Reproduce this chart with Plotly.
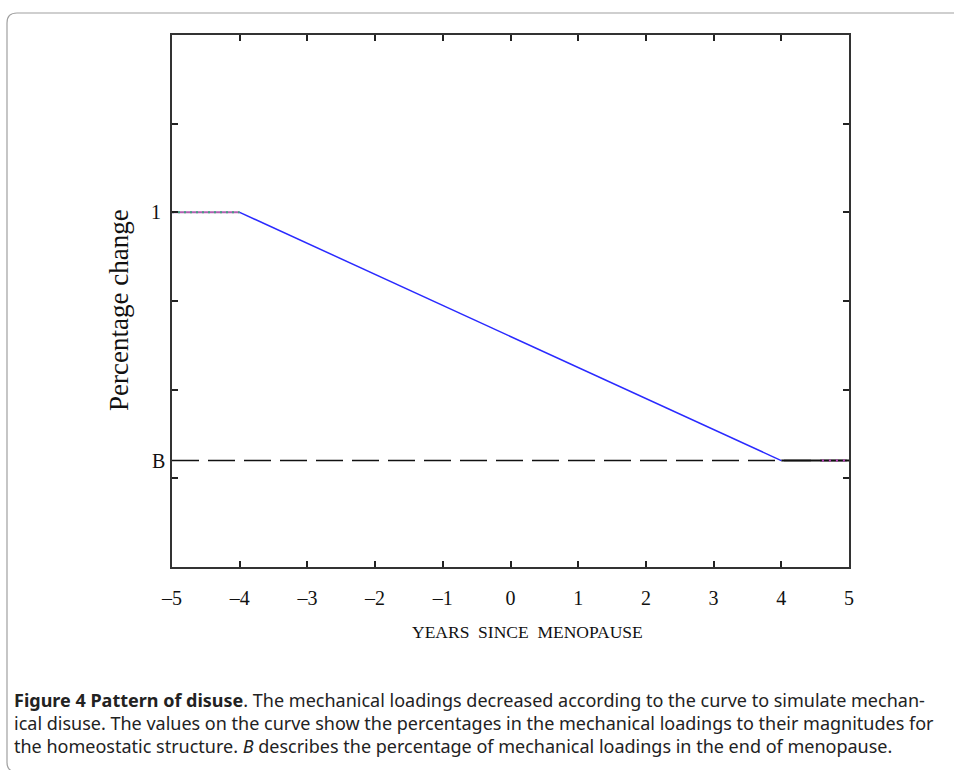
import plotly.graph_objects as go

# ---- data ----
B_LEVEL = 0.44
years = [-5, -4, 4, 5]
loading = [1.0, 1.0, B_LEVEL, B_LEVEL]
x_tick_vals = [-5, -4, -3, -2, -1, 0, 1, 2, 3, 4, 5]
x_tick_text = ["–5", "–4", "–3", "–2", "–1", "0", "1", "2", "3", "4", "5"]
y_tick_vals = [0.4, 0.6, 0.8, 1.0, 1.2]
y_label_vals = [1.0, B_LEVEL]
y_label_text = ["1", "B"]

W, H = 954, 770
L, R, T, Bm = 172, 849, 35, 567


def px(p):
    return (p - L) / (R - L)


def py(p):
    return (Bm - p) / (Bm - T)


fig = go.Figure()

# dashed reference line at B
fig.add_trace(go.Scatter(x=[-5, 5], y=[B_LEVEL, B_LEVEL], mode="lines",
                         line=dict(color="#111111", width=1.5, dash="27px,9px"),
                         hoverinfo="skip", showlegend=False))
# plateau segments (multicoloured dotted look)
fig.add_trace(go.Scatter(x=years[:2], y=loading[:2], mode="lines",
                         line=dict(color="#b060b0", width=2),
                         hoverinfo="skip", showlegend=False))
fig.add_trace(go.Scatter(x=years[:2], y=loading[:2], mode="lines",
                         line=dict(color="#40a080", width=2, dash="2px,4px"),
                         hoverinfo="skip", showlegend=False))
fig.add_trace(go.Scatter(x=years[2:], y=loading[2:], mode="lines",
                         line=dict(color="#111111", width=2),
                         hoverinfo="skip", showlegend=False))
fig.add_trace(go.Scatter(x=[4.6, 5], y=loading[2:], mode="lines",
                         line=dict(color="#c040c0", width=2, dash="2px,5px"),
                         hoverinfo="skip", showlegend=False))
# declining segment
fig.add_trace(go.Scatter(x=years[1:3], y=loading[1:3], mode="lines",
                         line=dict(color="#2a2aff", width=1.5),
                         hoverinfo="skip", showlegend=False))

serif = "Liberation Serif, Times New Roman, serif"

fig.update_xaxes(range=[-5, 5], tickvals=x_tick_vals, ticktext=x_tick_text,
                 ticks="inside", ticklen=6, tickwidth=1.5, tickcolor="#222",
                 showline=True, linecolor="#333", linewidth=1.5, mirror="ticks",
                 showgrid=False, zeroline=False,
                 tickfont=dict(family=serif, size=20, color="#111"),
                 ticklabelstandoff=12)
fig.update_yaxes(range=[0.2, 1.4], tickvals=y_tick_vals, showticklabels=False,
                 ticks="inside", ticklen=6, tickwidth=1.5, tickcolor="#222",
                 showline=True, linecolor="#333", linewidth=1.5, mirror="ticks",
                 showgrid=False, zeroline=False)

ann = []
for v, t in zip(y_label_vals, y_label_text):
    ann.append(dict(x=px(167 if t == "B" else 163), y=v, xref="paper", yref="y",
                    text=t, showarrow=False, xanchor="right", yanchor="middle",
                    font=dict(family=serif, size=20, color="#111")))
ann.append(dict(x=px(119), y=py(310), xref="paper", yref="paper",
                text="Percentage change", textangle=-90, showarrow=False,
                xanchor="center", yanchor="middle",
                font=dict(family=serif, size=27, color="#111")))
ann.append(dict(x=px(527), y=py(632), xref="paper", yref="paper",
                text="YEARS&nbsp; SINCE&nbsp; MENOPAUSE", showarrow=False,
                xanchor="center", yanchor="middle",
                font=dict(family=serif, size=17.5, color="#111")))

cap_lines = [
    "<b>Figure 4 Pattern of disuse</b>. The mechanical loadings decreased according to the curve to simulate mechan-",
    "ical disuse. The values on the curve show the percentages in the mechanical loadings to their magnitudes for",
    "the homeostatic structure. <i>B</i> describes the percentage of mechanical loadings in the end of menopause.",
]
for i, line in enumerate(cap_lines):
    ann.append(dict(x=px(12), y=py(700 + 23 * i), xref="paper", yref="paper",
                    text=line, showarrow=False, xanchor="left", yanchor="middle",
                    font=dict(family="Noto Sans, Open Sans, sans-serif", size=18, color="#222")))

# card border
x0, x1 = px(7), px(17)
xr = px(970)
yt, yt2 = py(13), py(23)
yb, yb2 = py(772), py(762)
path = (f"M {xr},{yt} L {x1},{yt} Q {x0},{yt} {x0},{yt2} "
        f"L {x0},{yb2} Q {x0},{yb} {x1},{yb} L {xr},{yb}")

fig.update_layout(
    width=W, height=H,
    margin=dict(l=L, r=W - R, t=T, b=H - Bm),
    paper_bgcolor="white", plot_bgcolor="white",
    annotations=ann,
    shapes=[dict(type="path", path=path, xref="paper", yref="paper",
                 line=dict(color="#a0a0a0", width=1.2), layer="below")],
    showlegend=False,
)

fig.write_html("out.html", config={"displayModeBar": False},
               post_script="document.body.style.margin='0px';")
